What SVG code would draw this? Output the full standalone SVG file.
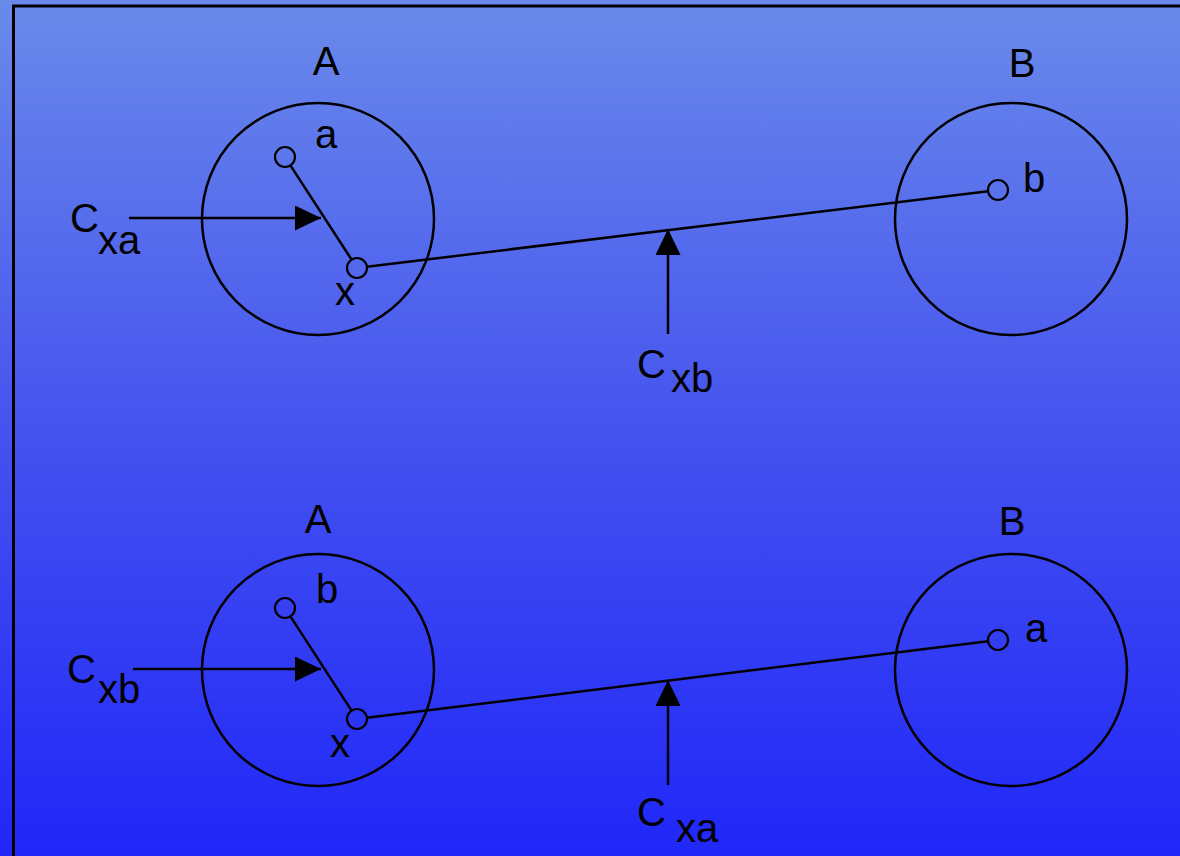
<svg xmlns="http://www.w3.org/2000/svg" width="1180" height="856" viewBox="0 0 1180 856">
<defs>
<linearGradient id="bg" x1="0" y1="0" x2="0" y2="1">
<stop offset="0" stop-color="#6a8aea"/>
<stop offset="0.5" stop-color="#4553ef"/>
<stop offset="1" stop-color="#2027f8"/>
</linearGradient>
<marker id="ah" markerUnits="userSpaceOnUse" markerWidth="27" markerHeight="25" refX="26" refY="12.5" orient="auto" viewBox="0 0 27 25">
<path d="M0,0 L26,12.5 L0,25 Z" fill="#000"/>
</marker>
</defs>
<style>
.big{fill:none;stroke:#000;stroke-width:2.5}
.pt{fill:none;stroke:#000;stroke-width:2.2}
.ln{stroke:#000;stroke-width:2.5;fill:none}
.arr{stroke:#000;stroke-width:2.5;fill:none;marker-end:url(#ah)}
text{font-family:"Liberation Sans",Arial,sans-serif;font-size:40px;fill:#000}
.mid{text-anchor:middle}
</style>
<rect x="0" y="0" width="1180" height="856" fill="url(#bg)"/>
<rect x="13.5" y="6" width="1200" height="900" fill="none" stroke="#000" stroke-width="3"/>

<!-- top scene -->
<g id="top-A">
<circle class="big" cx="318" cy="219" r="116"/>
<text class="mid" x="326" y="75">A</text>
</g>
<g id="top-B">
<circle class="big" cx="1011" cy="219" r="116"/>
<text class="mid" x="1022" y="77">B</text>
</g>
<g id="top-a">
<circle class="pt" cx="285" cy="157" r="10"/>
<text x="315" y="148">a</text>
</g>
<g id="top-x">
<circle class="pt" cx="357" cy="268" r="10"/>
<text x="335" y="305">x</text>
</g>
<g id="top-b">
<circle class="pt" cx="998" cy="190" r="10"/>
<text x="1023" y="192">b</text>
</g>
<g id="top-Cxa">
<text x="70" y="232">C</text>
<text x="98" y="254">xa</text>
</g>
<g id="top-Cxb">
<text x="637" y="378">C</text>
<text x="671" y="392">xb</text>
</g>

<!-- bottom scene -->
<g id="bot-A">
<circle class="big" cx="318" cy="670" r="116"/>
<text class="mid" x="318" y="533">A</text>
</g>
<g id="bot-B">
<circle class="big" cx="1011" cy="670" r="116"/>
<text class="mid" x="1012" y="535">B</text>
</g>
<g id="bot-b">
<circle class="pt" cx="285" cy="608" r="10"/>
<text x="316" y="603">b</text>
</g>
<g id="bot-x">
<circle class="pt" cx="357" cy="719" r="10"/>
<text x="330" y="757">x</text>
</g>
<g id="bot-a">
<circle class="pt" cx="998" cy="640" r="10"/>
<text x="1025" y="642">a</text>
</g>
<g id="bot-Cxb">
<text x="67" y="683">C</text>
<text x="98" y="703">xb</text>
</g>
<g id="bot-Cxa">
<text x="637" y="826">C</text>
<text x="676" y="842">xa</text>
</g>

<g id="connectors">
<line class="ln" x1="290.4" y1="165.4" x2="351.6" y2="259.6"/>
<line class="ln" x1="366.9" y1="266.8" x2="988.1" y2="191.2"/>
<line class="arr" x1="129" y1="218" x2="321" y2="218"/>
<line class="arr" x1="668" y1="334" x2="668" y2="229"/>

<line class="ln" x1="290.4" y1="616.4" x2="351.6" y2="710.6"/>
<line class="ln" x1="366.9" y1="717.8" x2="988.1" y2="641.2"/>
<line class="arr" x1="133" y1="669" x2="321" y2="669"/>
<line class="arr" x1="668" y1="785" x2="668" y2="680"/>
</g>
</svg>
